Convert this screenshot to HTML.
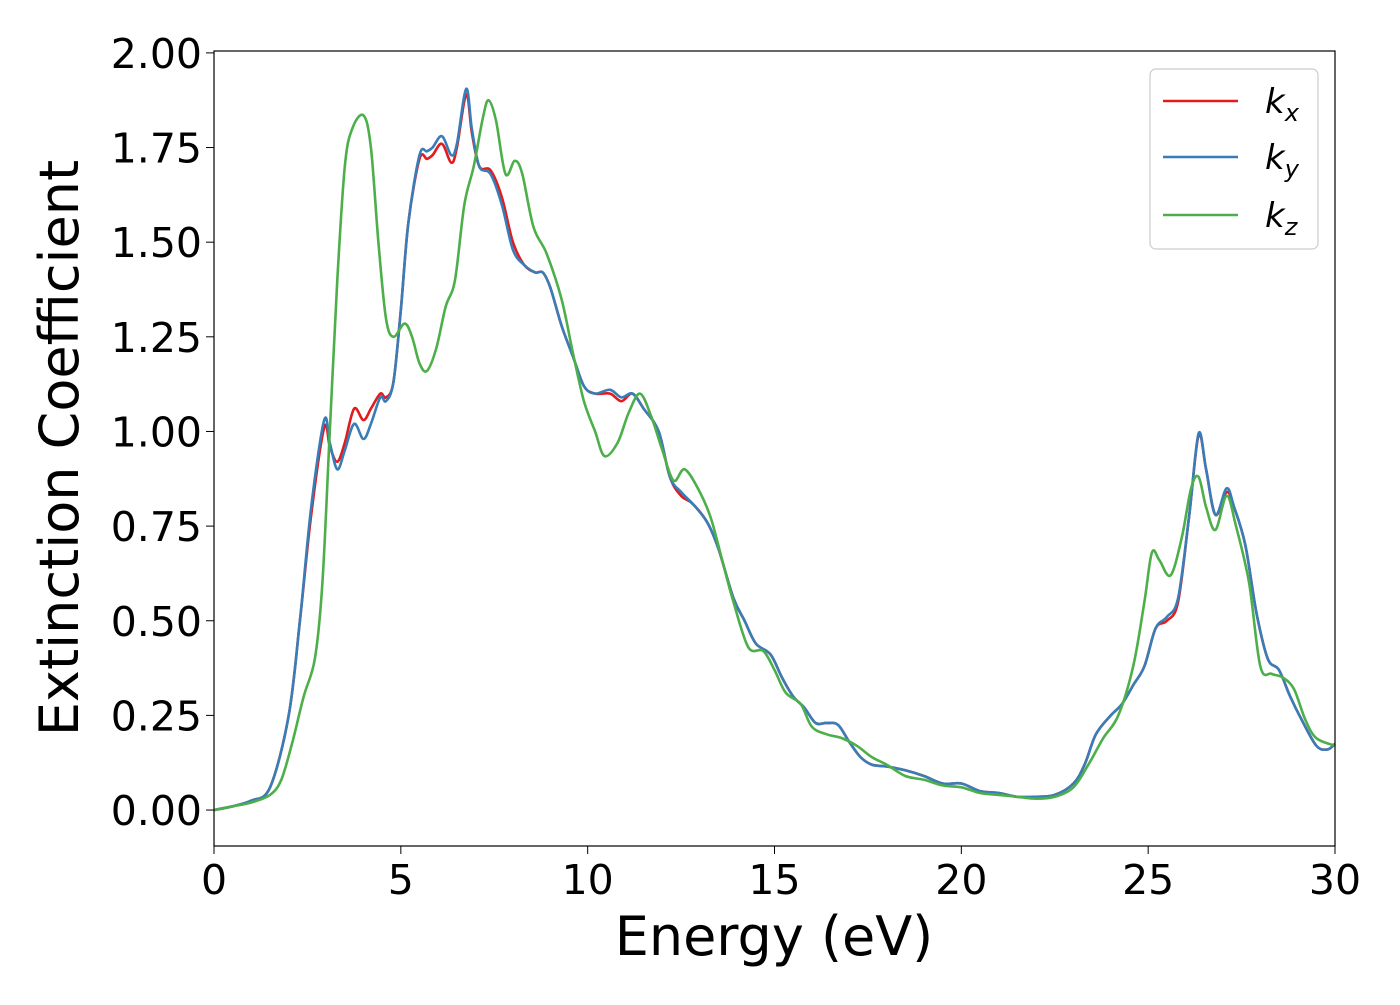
<!DOCTYPE html>
<html><head><meta charset="utf-8"><style>
body{margin:0;background:#fff}
svg text{font-family:"DejaVu Sans","Liberation Sans",sans-serif}
</style></head><body>
<svg id="chart" width="1400" height="1000" viewBox="0 0 1400 1000" xmlns="http://www.w3.org/2000/svg">
<rect width="1400" height="1000" fill="#fff"/>
<g id="ticks"></g>
<g id="lines"></g>
<rect x="214" y="51" width="1121" height="795" fill="none" stroke="#000" stroke-width="1.2"/>
<text x="774" y="955" font-size="54" text-anchor="middle">Energy (eV)</text>
<text x="0" y="0" font-size="54" text-anchor="middle" transform="translate(78,448) rotate(-90)">Extinction Coefficient</text>
<g>
<rect x="1150" y="69" width="168" height="180" rx="6" fill="#fff" stroke="#ccc" stroke-width="1.2"/>
<line x1="1163" y1="101" x2="1238" y2="101" stroke="#e41a1c" stroke-width="2.5"/>
<text x="1265" y="113" font-size="34" font-style="italic">k<tspan font-size="24" dy="8">x</tspan></text>
<line x1="1163" y1="157" x2="1238" y2="157" stroke="#377eb8" stroke-width="2.5"/>
<text x="1265" y="169" font-size="34" font-style="italic">k<tspan font-size="24" dy="8">y</tspan></text>
<line x1="1163" y1="215" x2="1238" y2="215" stroke="#4daf4a" stroke-width="2.5"/>
<text x="1265" y="227" font-size="34" font-style="italic">k<tspan font-size="24" dy="8">z</tspan></text>
</g>
</svg>
<script>
const xTicks=[0,5,10,15,20,25,30];
const yTicks=[0,0.25,0.5,0.75,1.0,1.25,1.5,1.75,2.0];
const energyXY=[0,0.5,1,1.5,2,2.3,2.6,2.95,3.1,3.3,3.5,3.75,4.0,4.2,4.45,4.6,4.8,5.0,5.2,5.5,5.7,5.85,6.1,6.35,6.5,6.75,6.9,7.1,7.4,7.7,8.0,8.3,8.6,8.8,9.0,9.3,9.6,9.9,10.2,10.6,10.9,11.2,11.5,11.9,12.2,12.5,12.8,13.2,13.5,13.9,14.2,14.5,14.9,15.2,15.5,15.8,16.1,16.4,16.7,17.0,17.3,17.6,18,18.5,19,19.5,20,20.5,21,21.5,22,22.5,23,23.3,23.6,24,24.3,24.6,24.9,25.2,25.5,25.8,26.1,26.35,26.55,26.8,27.1,27.3,27.6,27.9,28.2,28.5,28.8,29.1,29.5,29.8,30];
const ky=[0,0.01,0.025,0.06,0.25,0.5,0.8,1.03,0.97,0.9,0.95,1.02,0.98,1.02,1.09,1.08,1.13,1.32,1.55,1.73,1.74,1.75,1.78,1.73,1.76,1.905,1.8,1.7,1.68,1.6,1.48,1.44,1.42,1.42,1.38,1.28,1.2,1.12,1.1,1.11,1.09,1.1,1.06,1.0,0.88,0.84,0.81,0.76,0.69,0.56,0.5,0.44,0.41,0.35,0.3,0.27,0.23,0.23,0.225,0.18,0.14,0.12,0.115,0.105,0.09,0.07,0.07,0.05,0.045,0.035,0.035,0.04,0.07,0.12,0.2,0.25,0.28,0.33,0.38,0.48,0.51,0.56,0.78,0.995,0.9,0.78,0.85,0.8,0.7,0.52,0.4,0.37,0.3,0.24,0.17,0.16,0.175];
const kx=[0,0.01,0.025,0.06,0.25,0.5,0.78,1.01,0.96,0.92,0.97,1.06,1.03,1.06,1.1,1.09,1.13,1.32,1.55,1.72,1.72,1.73,1.76,1.71,1.75,1.89,1.79,1.7,1.69,1.62,1.5,1.44,1.42,1.42,1.38,1.28,1.2,1.12,1.1,1.1,1.08,1.1,1.06,1.0,0.88,0.83,0.81,0.76,0.69,0.56,0.5,0.44,0.41,0.35,0.3,0.27,0.23,0.23,0.225,0.18,0.14,0.12,0.115,0.105,0.09,0.07,0.07,0.05,0.045,0.035,0.035,0.04,0.07,0.12,0.2,0.25,0.28,0.33,0.38,0.48,0.5,0.55,0.78,0.99,0.9,0.78,0.84,0.8,0.7,0.52,0.4,0.37,0.3,0.24,0.17,0.16,0.175];
const energyZ=[0,0.5,1,1.5,1.8,2.1,2.4,2.7,2.9,3.1,3.3,3.5,3.7,4.0,4.2,4.4,4.6,4.8,5.1,5.3,5.5,5.7,5.95,6.2,6.45,6.7,6.95,7.2,7.35,7.55,7.8,8.05,8.25,8.55,8.9,9.3,9.6,9.9,10.2,10.45,10.8,11.1,11.4,11.7,12.0,12.3,12.6,13.0,13.3,13.6,13.9,14.3,14.7,15.0,15.3,15.7,16.0,16.4,16.8,17.2,17.6,18,18.5,19,19.5,20,20.5,21,21.5,22,22.5,23,23.4,23.8,24.2,24.6,24.9,25.1,25.3,25.6,25.9,26.15,26.35,26.55,26.8,27.1,27.35,27.7,28.0,28.3,28.6,28.9,29.2,29.5,30];
const kz=[0,0.01,0.02,0.04,0.08,0.18,0.3,0.4,0.6,1.0,1.4,1.7,1.8,1.835,1.75,1.5,1.3,1.25,1.285,1.25,1.18,1.16,1.22,1.33,1.4,1.6,1.7,1.83,1.875,1.82,1.68,1.715,1.68,1.54,1.47,1.35,1.21,1.08,1.0,0.935,0.97,1.05,1.1,1.04,0.95,0.87,0.9,0.84,0.77,0.66,0.55,0.43,0.42,0.37,0.31,0.28,0.22,0.2,0.19,0.17,0.14,0.12,0.09,0.08,0.065,0.06,0.045,0.04,0.035,0.03,0.035,0.06,0.12,0.19,0.25,0.38,0.55,0.68,0.66,0.62,0.72,0.85,0.88,0.8,0.74,0.83,0.75,0.6,0.38,0.36,0.35,0.32,0.24,0.19,0.17];
const X0=214,X1=1335,Y0=846,Y1=51,XMIN=0,XMAX=30,YMIN=-0.095,YMAX=2.005;
const sx=v=>X0+(v-XMIN)/(XMAX-XMIN)*(X1-X0);
const sy=v=>Y0-(v-YMIN)/(YMAX-YMIN)*(Y0-Y1);
const NS="http://www.w3.org/2000/svg";
const tg=document.getElementById('ticks'),lg=document.getElementById('lines');
xTicks.forEach(t=>{
 const l=document.createElementNS(NS,'line');
 l.setAttribute('x1',sx(t));l.setAttribute('x2',sx(t));l.setAttribute('y1',Y0);l.setAttribute('y2',Y0+8);l.setAttribute('stroke','#000');
 
 
 tg.appendChild(l);
 const tx=document.createElementNS(NS,'text');
 tx.setAttribute('x',sx(t));tx.setAttribute('y',Y0+48);tx.setAttribute('font-size','41');tx.setAttribute('text-anchor','middle');
 tx.textContent=t;
 
 
 tg.appendChild(tx);
});
yTicks.forEach(t=>{
 const l=document.createElementNS(NS,'line');
 l.setAttribute('x1',X0-8);l.setAttribute('x2',X0);l.setAttribute('y1',sy(t));l.setAttribute('y2',sy(t));l.setAttribute('stroke','#000');
 
 
 tg.appendChild(l);
 const tx=document.createElementNS(NS,'text');
 tx.setAttribute('x',X0-12);tx.setAttribute('y',sy(t)+15);tx.setAttribute('font-size','41');tx.setAttribute('text-anchor','end');
 tx.textContent=t.toFixed(2);
 
 
 tg.appendChild(tx);
});
function pathFor(xs,ys){
 const p=xs.map((x,i)=>[sx(x),sy(ys[i])]);
 let d='M'+p[0][0].toFixed(1)+','+p[0][1].toFixed(1);
 for(let i=0;i<p.length-1;i++){
  const a=p[Math.max(0,i-1)],b=p[i],c=p[i+1],e=p[Math.min(p.length-1,i+2)];
  const c1=[b[0]+(c[0]-a[0])/6,b[1]+(c[1]-a[1])/6],c2=[c[0]-(e[0]-b[0])/6,c[1]-(e[1]-b[1])/6];
  d+='C'+c1.map(v=>v.toFixed(1))+' '+c2.map(v=>v.toFixed(1))+' '+c[0].toFixed(1)+','+c[1].toFixed(1);
 }
 return d;
}
[[energyXY,kx,'#e41a1c','line-kx'],[energyXY,ky,'#377eb8','line-ky'],[energyZ,kz,'#4daf4a','line-kz']].forEach(s=>{
 const p=document.createElementNS(NS,'path');
 p.setAttribute('d',pathFor(s[0],s[1]));p.setAttribute('fill','none');p.setAttribute('stroke',s[2]);p.setAttribute('stroke-width','2.6');p.setAttribute('stroke-linejoin','round');
 
 
 lg.appendChild(p);
});
</script>
</body></html>
